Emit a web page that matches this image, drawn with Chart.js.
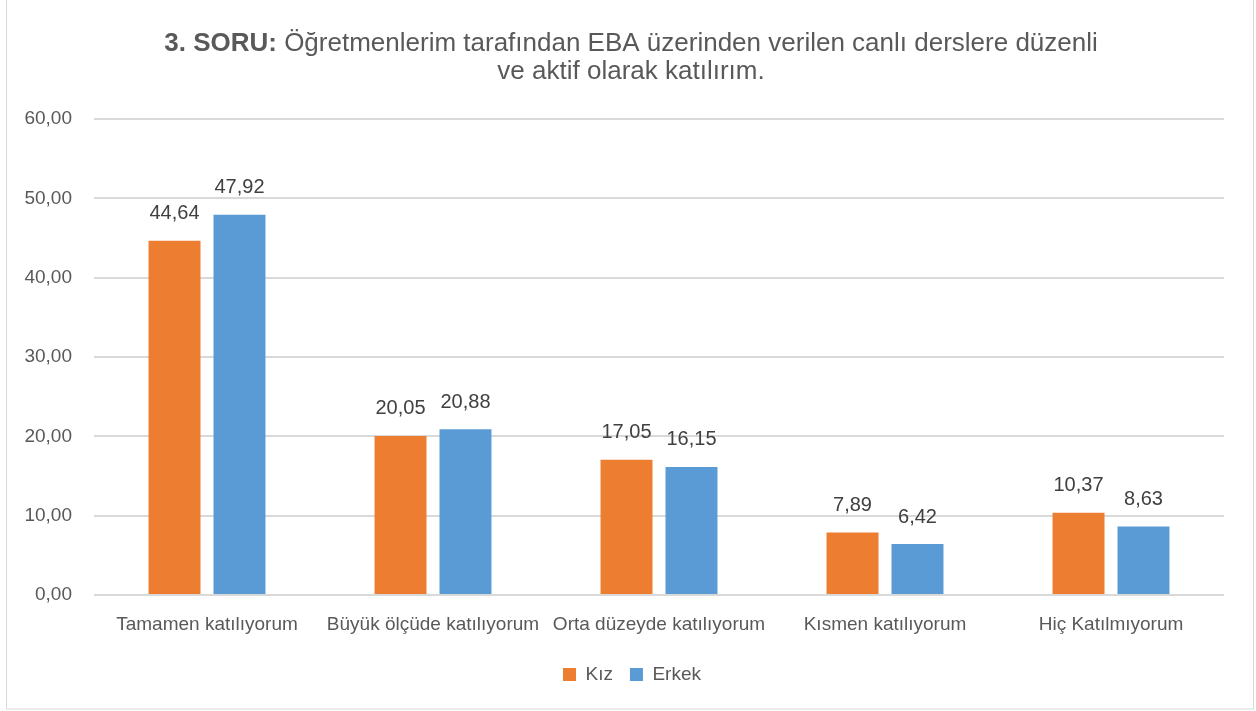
<!DOCTYPE html>
<html>
<head>
<meta charset="utf-8">
<script src="https://cdn.jsdelivr.net/npm/chart.js@4/dist/chart.umd.min.js"></script>
<style>
  html, body { margin: 0; padding: 0; background: #fff; }
  #wrap { width: 1256px; height: 711px; position: relative; }
</style>
</head>
<body>
<div id="wrap"><canvas id="mycanvas" width="1256" height="711"></canvas></div>
<script>
var categories = ["Tamamen katılıyorum", "Büyük ölçüde katılıyorum", "Orta düzeyde katılıyorum", "Kısmen katılıyorum", "Hiç Katılmıyorum"];
var kiz = [44.64, 20.05, 17.05, 7.89, 10.37];
var erkek = [47.92, 20.88, 16.15, 6.42, 8.63];
var titleBold = "3. SORU:";
var titleRest = " Öğretmenlerim tarafından EBA üzerinden verilen canlı derslere düzenli";
var titleLine2 = "ve aktif olarak katılırım.";

var FONT = "'Liberation Sans', Arial, sans-serif";

function fmt(v) {
	return v.toFixed(2).replace('.', ',');
}

// frame + title, legend nudged to the centre of the plot
var framePlugin = {
	id: 'frame',
	afterLayout: function(chart) {
		chart.legend.left += 20;
		chart.legend.right += 20;
	},
	beforeDraw: function(chart) {
		var ctx = chart.ctx;
		ctx.save();
		ctx.fillStyle = '#fff';
		ctx.fillRect(0, 0, chart.width, chart.height);
		ctx.strokeStyle = '#d9d9d9';
		ctx.lineWidth = 1;
		ctx.strokeRect(6.5, -1, 1247, 710);
		ctx.restore();
	},
	afterDraw: function(chart) {
		var ctx = chart.ctx;
		ctx.save();
		ctx.fillStyle = '#595959';
		ctx.textBaseline = 'middle';
		ctx.font = "bold 26px " + FONT;
		var wb = ctx.measureText(titleBold).width;
		ctx.font = "26px " + FONT;
		var wr = ctx.measureText(titleRest).width;
		var cx = 631;
		var x0 = cx - (wb + wr) / 2;
		ctx.textAlign = 'left';
		ctx.font = "bold 26px " + FONT;
		ctx.fillText(titleBold, x0, 44);
		ctx.font = "26px " + FONT;
		ctx.fillText(titleRest, x0 + wb, 44);
		ctx.textAlign = 'center';
		ctx.fillText(titleLine2, cx, 72);
		ctx.restore();
	}
};

// value labels above bars
var valuePlugin = {
	id: 'values',
	afterDatasetsDraw: function(chart) {
		var ctx = chart.ctx;
		ctx.save();
		ctx.fillStyle = '#404040';
		ctx.font = "20px " + FONT;
		ctx.textAlign = 'center';
		ctx.textBaseline = 'middle';
		chart.data.datasets.forEach(function(ds, i) {
			chart.getDatasetMeta(i).data.forEach(function(bar, j) {
				ctx.fillText(fmt(ds.data[j]), bar.x, bar.y - 27);
			});
		});
		ctx.restore();
	}
};

var chartdata = {
	labels: categories,
	datasets: [
		{
			label: "Kız",
			backgroundColor: "#ED7D31",
			data: kiz
		},
		{
			label: "Erkek",
			backgroundColor: "#5B9BD5",
			data: erkek
		}
	]
};

var ctx = document.getElementById('mycanvas');
var chart = new Chart(ctx, {
	type: 'bar',
	data: chartdata,
	plugins: [framePlugin, valuePlugin],
	options: {
		responsive: false,
		animation: false,
		layout: { padding: { top: 119, right: 32, bottom: 17, left: 0 } },
		datasets: {
			bar: { categoryPercentage: 0.575, barPercentage: 0.8 }
		},
		plugins: {
			title: { display: false },
			tooltip: { enabled: false },
			legend: {
				position: 'bottom',
				labels: {
					boxWidth: 13,
					boxHeight: 13,
					padding: 17,
					color: '#595959',
					font: { size: 19, family: FONT }
				}
			}
		},
		scales: {
			x: {
				afterFit: function(scale) { scale.height = 53; },
				grid: { display: false, drawTicks: false },
				border: { display: false },
				ticks: {
					color: '#595959',
					padding: 18,
					autoSkip: false,
					maxRotation: 0,
					font: { size: 19, family: FONT }
				}
			},
			y: {
				min: 0,
				max: 60,
				afterFit: function(scale) { scale.width = 94; },
				grid: { color: '#d9d9d9', lineWidth: 2, drawTicks: false },
				border: { display: false },
				ticks: {
					stepSize: 10,
					color: '#595959',
					padding: 22,
					font: { size: 19, family: FONT },
					callback: function(v) { return fmt(v); }
				}
			}
		}
	}
});
</script>
</body>
</html>
